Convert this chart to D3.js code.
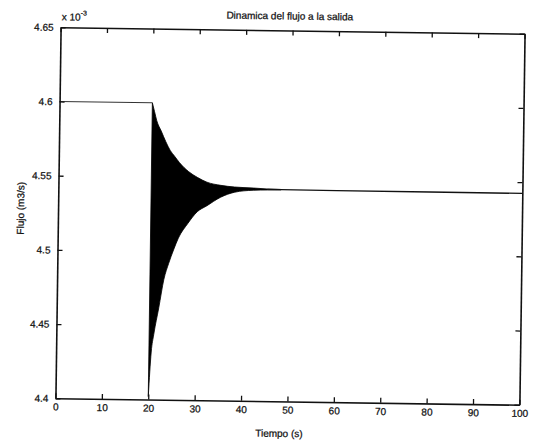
<!DOCTYPE html>
<html>
<head>
<meta charset="utf-8">
<script src="https://cdn.jsdelivr.net/npm/d3@7/dist/d3.min.js"></script>
<style>
  html, body { margin: 0; padding: 0; background: #fff; }
  svg text { font-family: "Liberation Sans", Arial, sans-serif; fill: #111; }
</style>
</head>
<body>
<svg id="chart" width="533" height="441"></svg>
<script>
// ---- data (flow in units of 1e-3 m3/s) ----
const xTicks = [0, 10, 20, 30, 40, 50, 60, 70, 80, 90, 100];
const yTicks = [4.4, 4.45, 4.5, 4.55, 4.6, 4.65];
const yTickLabels = ["4.4", "4.45", "4.5", "4.55", "4.6", "4.65"];

// steady flow before the disturbance
const preTime = [0, 20];
const preFlow = [4.6, 4.6];

// oscillation envelope
const envTime  = [20, 20.5, 21, 22, 23, 24, 25, 26, 28, 30, 32, 35, 38, 42, 45, 48];
const envUpper = [4.600, 4.594, 4.588, 4.581, 4.574, 4.568, 4.564, 4.560, 4.554, 4.550, 4.547, 4.545, 4.544, 4.5435, 4.543, 4.5428];
const envLower = [4.402, 4.432, 4.444, 4.462, 4.481, 4.492, 4.501, 4.509, 4.519, 4.527, 4.531, 4.537, 4.5405, 4.542, 4.5423, 4.5425];

// settled flow after the oscillation
const postTime = [45, 60, 80, 100];
const postFlow = [4.5427, 4.5426, 4.5425, 4.5424];

// ---- layout ----
const W = 533, H = 441;
const mLeft = 58, mRight = 522, mTop = 30.5, mBottom = 401.5;

const svg = d3.select("#chart");
svg.append("rect").attr("width", W).attr("height", H).attr("fill", "#fff");
// the scanned figure is slightly tilted
const g = svg.append("g").attr("transform", "rotate(0.8, 290, 216)");

const x = d3.scaleLinear().domain([0, 100]).range([mLeft, mRight]);
const y = d3.scaleLinear().domain([4.4, 4.65]).range([mBottom, mTop]);

// envelope band
const env = envTime.map((t, i) => ({ t, hi: envUpper[i], lo: envLower[i] }));
g.append("path")
  .datum(env)
  .attr("fill", "#000")
  .attr("stroke", "#000")
  .attr("stroke-width", 0.8)
  .attr("d", d3.area().curve(d3.curveMonotoneX)
    .x(d => x(d.t)).y0(d => y(d.lo)).y1(d => y(d.hi)));

const line = d3.line().x(d => x(d[0])).y(d => y(d[1]));
g.append("path")
  .datum(preTime.map((t, i) => [t, preFlow[i]]))
  .attr("fill", "none").attr("stroke", "#333").attr("stroke-width", 1.1)
  .attr("d", line);
g.append("path")
  .datum(postTime.map((t, i) => [t, postFlow[i]]))
  .attr("fill", "none").attr("stroke", "#111").attr("stroke-width", 1.3)
  .attr("d", line);

// axes (MATLAB style box with inward ticks)
const fmtY = d => yTickLabels[yTicks.indexOf(d)];
const axB = g.append("g").attr("transform", `translate(0,${mBottom})`)
  .call(d3.axisBottom(x).tickValues(xTicks).tickSizeInner(-5).tickSizeOuter(0).tickPadding(5));
const axT = g.append("g").attr("transform", `translate(0,${mTop})`)
  .call(d3.axisTop(x).tickValues(xTicks).tickSizeInner(-5).tickSizeOuter(0).tickFormat(""));
const axL = g.append("g").attr("transform", `translate(${mLeft},0)`)
  .call(d3.axisLeft(y).tickValues(yTicks).tickSizeInner(-5).tickSizeOuter(0).tickPadding(7).tickFormat(fmtY));
const axR = g.append("g").attr("transform", `translate(${mRight},0)`)
  .call(d3.axisRight(y).tickValues(yTicks).tickSizeInner(-5).tickSizeOuter(0).tickFormat(""));

[axB, axT, axL, axR].forEach(a => {
  a.select(".domain").attr("stroke", "#111").attr("stroke-width", 1.6);
  a.selectAll(".tick line").attr("stroke", "#111").attr("stroke-width", 1.3);
  a.selectAll(".tick text").attr("font-size", 10).attr("fill", "#111")
    .attr("font-family", "'Liberation Sans', Arial, sans-serif")
    .attr("stroke", "#111").attr("stroke-width", 0.25);
});

// texts
g.append("text").attr("x", 287).attr("y", 19.5).attr("text-anchor", "middle")
  .attr("font-size", 10).attr("stroke", "#111").attr("stroke-width", 0.25)
  .text("Dinamica del flujo a la salida");

const mult = g.append("text").attr("x", mLeft + 1).attr("y", 23.5)
  .attr("font-size", 10).attr("stroke", "#111").attr("stroke-width", 0.25);
mult.append("tspan").text("x 10");
mult.append("tspan").attr("dy", -5).attr("font-size", 7).text("-3");

g.append("text").attr("x", 282).attr("y", 437).attr("text-anchor", "middle")
  .attr("font-size", 10).attr("stroke", "#111").attr("stroke-width", 0.25)
  .text("Tiempo (s)");

g.append("text").attr("transform", "translate(24,212) rotate(-90)").attr("text-anchor", "middle")
  .attr("font-size", 10).attr("stroke", "#111").attr("stroke-width", 0.25)
  .text("Flujo (m3/s)");
</script>
</body>
</html>
